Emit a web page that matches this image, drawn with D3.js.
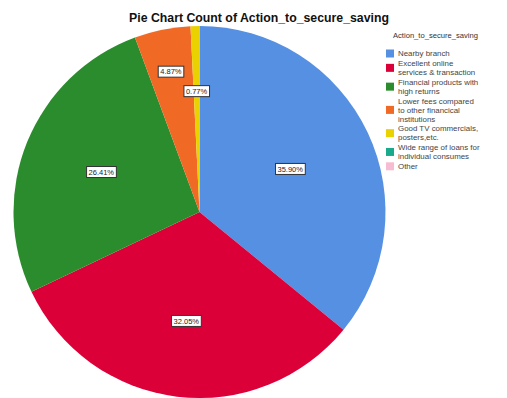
<!DOCTYPE html>
<html>
<head>
<meta charset="utf-8">
<script src="https://cdn.jsdelivr.net/npm/d3@7"></script>
<style>
  html, body { margin: 0; padding: 0; background: #fff; }
  svg { display: block; }
</style>
</head>
<body>
<script>
// ---- data ----
const categories = [
  "Nearby branch",
  "Excellent online services & transaction",
  "Financial products with high returns",
  "Lower fees compared to other financical institutions",
  "Good TV commercials, posters,etc.",
  "Wide range of loans for individual consumes",
  "Other"
];
const legendLines = [
  ["Nearby branch"],
  ["Excellent online", "services & transaction"],
  ["Financial products with", "high returns"],
  ["Lower fees compared", "to other financical", "institutions"],
  ["Good TV commercials,", "posters,etc."],
  ["Wide range of loans for", "individual consumes"],
  ["Other"]
];
const percents = [35.90, 32.05, 26.41, 4.87, 0.77, 0, 0];
const colors = ["#5590e2", "#dc0038", "#2a8c2c", "#f06a26", "#ead200", "#1aa98a", "#f8bcd2"];
const chartTitle = "Pie Chart Count of Action_to_secure_saving";
const legendTitle = "Action_to_secure_saving";

// ---- layout ----
const W = 507, H = 398;
const cx = 199.5, cy = 212, R = 186;
const labelRadius = [0.54, 0.59, 0.57, 0.77, 0.65];

const svg = d3.select("body").append("svg").attr("width", W).attr("height", H);

svg.append("text").attr("x", 259).attr("y", 22).attr("text-anchor", "middle")
  .attr("font-family", "Liberation Sans, Arial, sans-serif").attr("font-weight", "bold")
  .attr("font-size", 12.3).attr("fill", "#111").text(chartTitle);

const data = categories.map((c, i) => ({ cat: c, value: percents[i], color: colors[i], idx: i }));
const pie = d3.pie().sort(null).value(d => d.value);
const arcs = pie(data);
const arc = d3.arc().innerRadius(0).outerRadius(R);

const g = svg.append("g").attr("transform", `translate(${cx},${cy})`);
g.selectAll("path").data(arcs.filter(a => a.data.value > 0)).join("path")
  .attr("d", arc).attr("fill", d => d.data.color);

// labels
const lab = g.selectAll("g.lab").data(arcs.filter(a => a.data.value > 0)).join("g").attr("class", "lab")
  .attr("transform", (d, i) => {
    const c = d3.arc().innerRadius(0).outerRadius(R * labelRadius[i] * 2).centroid(d);
    return `translate(${c[0]},${c[1]})`;
  });
lab.each(function(d) {
  const sel = d3.select(this);
  const t = sel.append("text").attr("text-anchor", "middle").attr("dy", "0.35em")
    .attr("font-family", "Liberation Sans, Arial, sans-serif").attr("font-size", 7.5)
    .attr("fill", "#222").text(d.data.value.toFixed(2) + "%");
  const bb = t.node().getBBox();
  sel.insert("rect", "text").attr("x", bb.x - 2).attr("y", -5.5)
    .attr("width", bb.width + 4).attr("height", 11)
    .attr("fill", "#fff").attr("stroke", "#333").attr("stroke-width", 1);
});

// legend
const lg = svg.append("g");
lg.append("text").attr("x", 393).attr("y", 38)
  .attr("font-family", "Liberation Sans, Arial, sans-serif").attr("font-size", 7.6)
  .attr("fill", "#333").text(legendTitle);

const fs = 7.9, lineH = 8.9, itemGap = 1;
let y = 53.5;
legendLines.forEach((lines, i) => {
  const top = y;
  lines.forEach((ln, j) => {
    lg.append("text").attr("x", 398).attr("y", y).attr("dy", "0.35em")
      .attr("font-family", "Liberation Sans, Arial, sans-serif").attr("font-size", fs)
      .attr("fill", "#444").text(ln);
    if (j < lines.length - 1) y += lineH;
  });
  const mid = (top + y) / 2;
  lg.append("rect").attr("x", 386).attr("y", mid - 4).attr("width", 8).attr("height", 8)
    .attr("fill", colors[i]);
  y += lineH + itemGap;
});
</script>
</body>
</html>
